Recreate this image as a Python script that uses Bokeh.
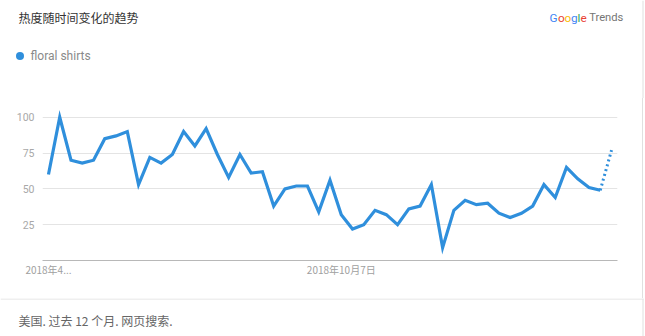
from bokeh.plotting import figure
from bokeh.layouts import column, row
from bokeh.models import Range1d, FixedTicker, Spacer
from bokeh.core.properties import value
from bokeh.embed import file_html
from bokeh.resources import INLINE

# Weekly interest for "floral shirts", week index 0 = 2018-04-08
weeks = list(range(51))
interest = [60, 100, 70, 68, 70, 85, 87, 90, 53, 72,
            68, 74, 90, 80, 92, 74, 58, 74, 61, 62,
            38, 50, 52, 52, 34, 56, 32, 22, 25, 35,
            32, 25, 36, 38, 53, 9, 35, 42, 39, 40,
            33, 30, 33, 38, 53, 44, 65, 57, 51, 49,
            77]
partial_from = 49  # last week is still incomplete

x_ticks = [0, 26]
x_tick_labels = {0: "2018年4...", 26: "2018年10月7日"}
y_ticks = [25, 50, 75, 100]

series_name = "floral shirts"
title_text = "热度随时间变化的趋势"
footer_text = "美国. 过去 12 个月. 网页搜索."
brand_letters = ["G", "o", "o", "g", "l", "e"]
brand_colors = ["#4285f4", "#ea4335", "#fbbc05", "#4285f4", "#34a853", "#ea4335"]

LINE = "#2f8fdc"
EDGE = "#e0e0e0"
FONT = "Roboto"
CJK = "Noto Sans CJK SC"

W = 645
HEAD_H, MAIN_H, FOOT_H = 98, 200, 38


def pixel_panel(width, height):
    """A bare panel whose data units are pixels, y growing downwards."""
    f = figure(width=width, height=height, output_backend="svg",
               toolbar_location=None, x_axis_type=None, y_axis_type=None,
               x_range=Range1d(0, width), y_range=Range1d(height, 0),
               min_border=0)
    f.outline_line_color = None
    f.grid.visible = False
    f.background_fill_color = "white"
    f.border_fill_color = "white"
    return f


# ---- header: title, brand, legend ----
head = pixel_panel(W, HEAD_H)
head.text(x=[18], y=[17], text=[title_text], text_font=value(CJK),
          text_font_size="12px", text_color="#333333", text_baseline="middle")

glyph_w = [8.4, 6.5, 6.5, 6.5, 3.0, 6.3]
bx, xs = 549.0, []
for w in glyph_w:
    xs.append(bx)
    bx += w
head.text(x=xs, y=[17] * len(xs), text=brand_letters, text_color=brand_colors,
          text_font=value(FONT), text_font_size="11.8px", text_baseline="middle")
head.text(x=[bx + 2.5], y=[17], text=["Trends"], text_font=value(FONT),
          text_font_size="11.2px", text_color="#757575", text_baseline="middle")

head.scatter(x=[19.5], y=[55.5], size=8, color=LINE, line_color=None)
head.text(x=[30], y=[55], text=[series_name], text_font=value(FONT),
          text_font_size="12px", text_color="#8a8a8a", text_baseline="middle")
head.quad(left=[642], right=[643], top=[0], bottom=[HEAD_H],
          fill_color=EDGE, line_color=None)

# ---- main chart ----
p = figure(width=642, height=MAIN_H, output_backend="svg", toolbar_location=None,
           x_range=Range1d(-0.53, 50.53), y_range=Range1d(0, 110.3),
           min_border_left=42, min_border_right=25,
           min_border_top=4, min_border_bottom=38)
p.outline_line_color = None
p.background_fill_color = "white"
p.border_fill_color = "white"

p.line(weeks[:partial_from + 1], interest[:partial_from + 1], line_color=LINE,
       line_width=3.2, line_join="miter")
p.line(weeks[partial_from:], interest[partial_from:], line_color=LINE,
       line_width=3, line_dash="2 3")

p.xaxis.ticker = FixedTicker(ticks=x_ticks)
p.xaxis.major_label_overrides = x_tick_labels
p.xaxis.axis_line_color = "#b8b8b8"
p.xaxis.major_tick_line_color = None
p.xaxis.minor_tick_line_color = None
p.xaxis.major_label_text_color = "#a0a0a0"
p.xaxis.major_label_text_font = CJK
p.xaxis.major_label_text_font_size = "10px"
p.xaxis.major_label_standoff = -5

p.yaxis.ticker = FixedTicker(ticks=y_ticks)
p.yaxis.axis_line_color = None
p.yaxis.major_tick_line_color = None
p.yaxis.minor_tick_line_color = None
p.yaxis.major_label_text_color = "#a8a8a8"
p.yaxis.major_label_text_font = FONT
p.yaxis.major_label_text_font_size = "10.5px"
p.yaxis.major_label_standoff = 2

p.xgrid.grid_line_color = None
p.ygrid.grid_line_color = "#e4e4e4"

# card's right edge beside the chart
edge = Spacer(width=1, height=MAIN_H, styles={"background-color": EDGE})
pad = Spacer(width=2, height=MAIN_H)

# ---- footer ----
foot = pixel_panel(W, FOOT_H)
foot.quad(left=[0], right=[643], top=[0], bottom=[1],
          fill_color=EDGE, line_color=None)
foot.quad(left=[642], right=[643], top=[0], bottom=[FOOT_H],
          fill_color=EDGE, line_color=None)
foot.text(x=[18], y=[22], text=[footer_text], text_font=value(CJK),
          text_font_size="12px", text_color="#666666", text_baseline="middle")

layout = column(head, row(p, edge, pad, spacing=0), foot, spacing=0)
open("out.html", "w").write(file_html(layout, INLINE))
